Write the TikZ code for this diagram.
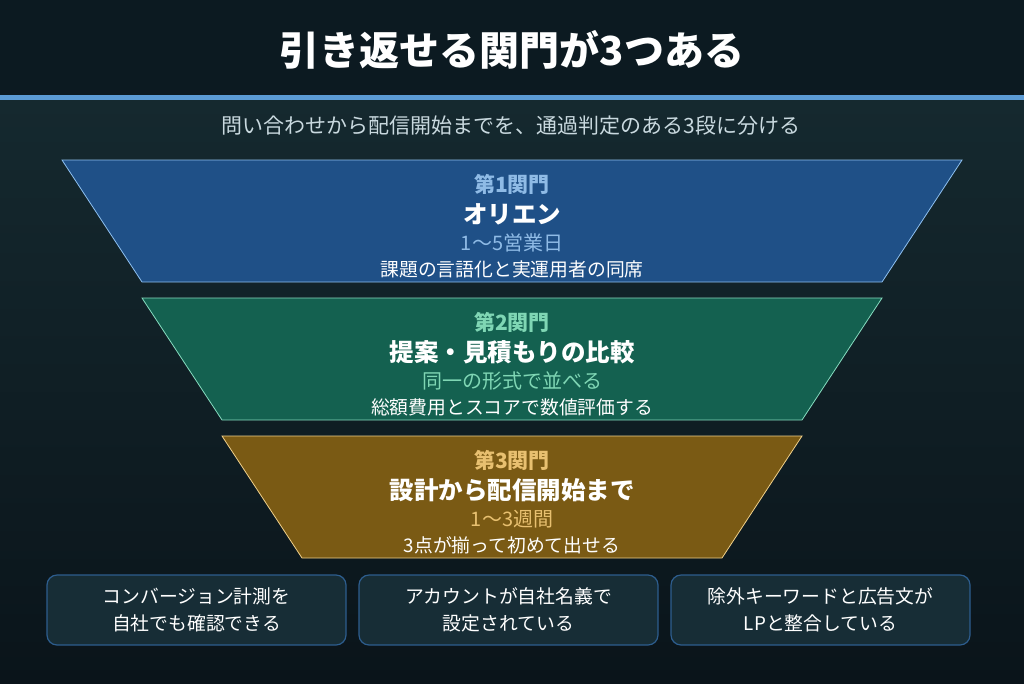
\documentclass[tikz,border=0pt]{standalone}
\usepackage{fontspec}
\setmainfont{Noto Sans CJK JP}
\usetikzlibrary{positioning}
\definecolor{topbg}{HTML}{0C1A21}
\definecolor{bandline}{HTML}{5B9BD5}
\definecolor{midbg}{HTML}{15292F}
\definecolor{lowbg}{HTML}{0A141A}
\definecolor{subtxt}{HTML}{C9D9DF}
\definecolor{fillA}{HTML}{1F5087}
\definecolor{edgeA}{HTML}{8EC0F0}
\definecolor{labA}{HTML}{8FBBE6}
\definecolor{fillB}{HTML}{146150}
\definecolor{edgeB}{HTML}{86DCC0}
\definecolor{labB}{HTML}{7FD6B4}
\definecolor{fillC}{HTML}{7A5A14}
\definecolor{edgeC}{HTML}{F0D08A}
\definecolor{labC}{HTML}{E8C070}
\definecolor{cardfill}{HTML}{172D36}
\definecolor{cardedge}{HTML}{2D5D8E}
\newcommand{\fsz}[1]{\fontsize{#1}{#1}\selectfont}
\begin{document}
\begin{tikzpicture}[x=1pt,y=-1pt,
  gatelab/.style={font=\fsz{21}\bfseries, anchor=center},
  gatetitle/.style={font=\fsz{24.5}\bfseries, text=white, anchor=center},
  gatesub/.style={font=\fsz{20}, anchor=center},
  gatenote/.style={font=\fsz{18.8}, text=white, anchor=center},
  card/.style={draw=cardedge, line width=1.2pt, fill=cardfill, rounded corners=10pt},
  cardtext/.style={font=\fsz{18.8}, text=white, align=center, anchor=center}
]
\useasboundingbox (0,0) rectangle (1024,683);
% backgrounds
\fill[topbg] (0,0) rectangle (1024,95);
\shade[top color=midbg, bottom color=lowbg] (0,100) rectangle (1024,683);
\fill[bandline] (0,95) rectangle (1024,100);

\node[font=\fsz{40}\bfseries, text=white] (title) at (512,50) {引き返せる関門が3つある};
\node[font=\fsz{21}, text=subtxt] (subtitle) at (511,126) {問い合わせから配信開始までを、通過判定のある3段に分ける};

% gate 1
\filldraw[fill=fillA, draw=edgeA, line width=0.8pt] (62,160) -- (962,160) -- (882,282) -- (142,282) -- cycle;
\node[gatelab, text=labA] (g1a) at (512,184) {第1関門};
\node[gatetitle] (g1b) at (512,214) {オリエン};
\node[gatesub, text=labA] (g1c) at (512,243) {1〜5営業日};
\node[gatenote] (g1d) at (512,269) {課題の言語化と実運用者の同席};

% gate 2
\filldraw[fill=fillB, draw=edgeB, line width=0.8pt] (142,298) -- (882,298) -- (802,420) -- (222,420) -- cycle;
\node[gatelab, text=labB] (g2a) at (512,322) {第2関門};
\node[gatetitle] (g2b) at (512,352) {提案・見積もりの比較};
\node[gatesub, text=labB] (g2c) at (512,381) {同一の形式で並べる};
\node[gatenote] (g2d) at (512,407) {総額費用とスコアで数値評価する};

% gate 3
\filldraw[fill=fillC, draw=edgeC, line width=0.8pt] (222,436) -- (802,436) -- (722,558) -- (302,558) -- cycle;
\node[gatelab, text=labC] (g3a) at (512,460) {第3関門};
\node[gatetitle] (g3b) at (512,490) {設計から配信開始まで};
\node[gatesub, text=labC] (g3c) at (512,519) {1〜3週間};
\node[gatenote] (g3d) at (512,545) {3点が揃って初めて出せる};

% cards
\draw[card] (47,575) rectangle (346,645);
\node[cardtext] (c1) at (196.5,610) {コンバージョン計測を\\[8pt]自社でも確認できる};
\draw[card] (359,575) rectangle (658,645);
\node[cardtext] (c2) at (508.5,610) {アカウントが自社名義で\\[8pt]設定されている};
\draw[card] (671,575) rectangle (970,645);
\node[cardtext] (c3) at (820.5,610) {除外キーワードと広告文が\\[8pt]LPと整合している};
\end{tikzpicture}
\end{document}
